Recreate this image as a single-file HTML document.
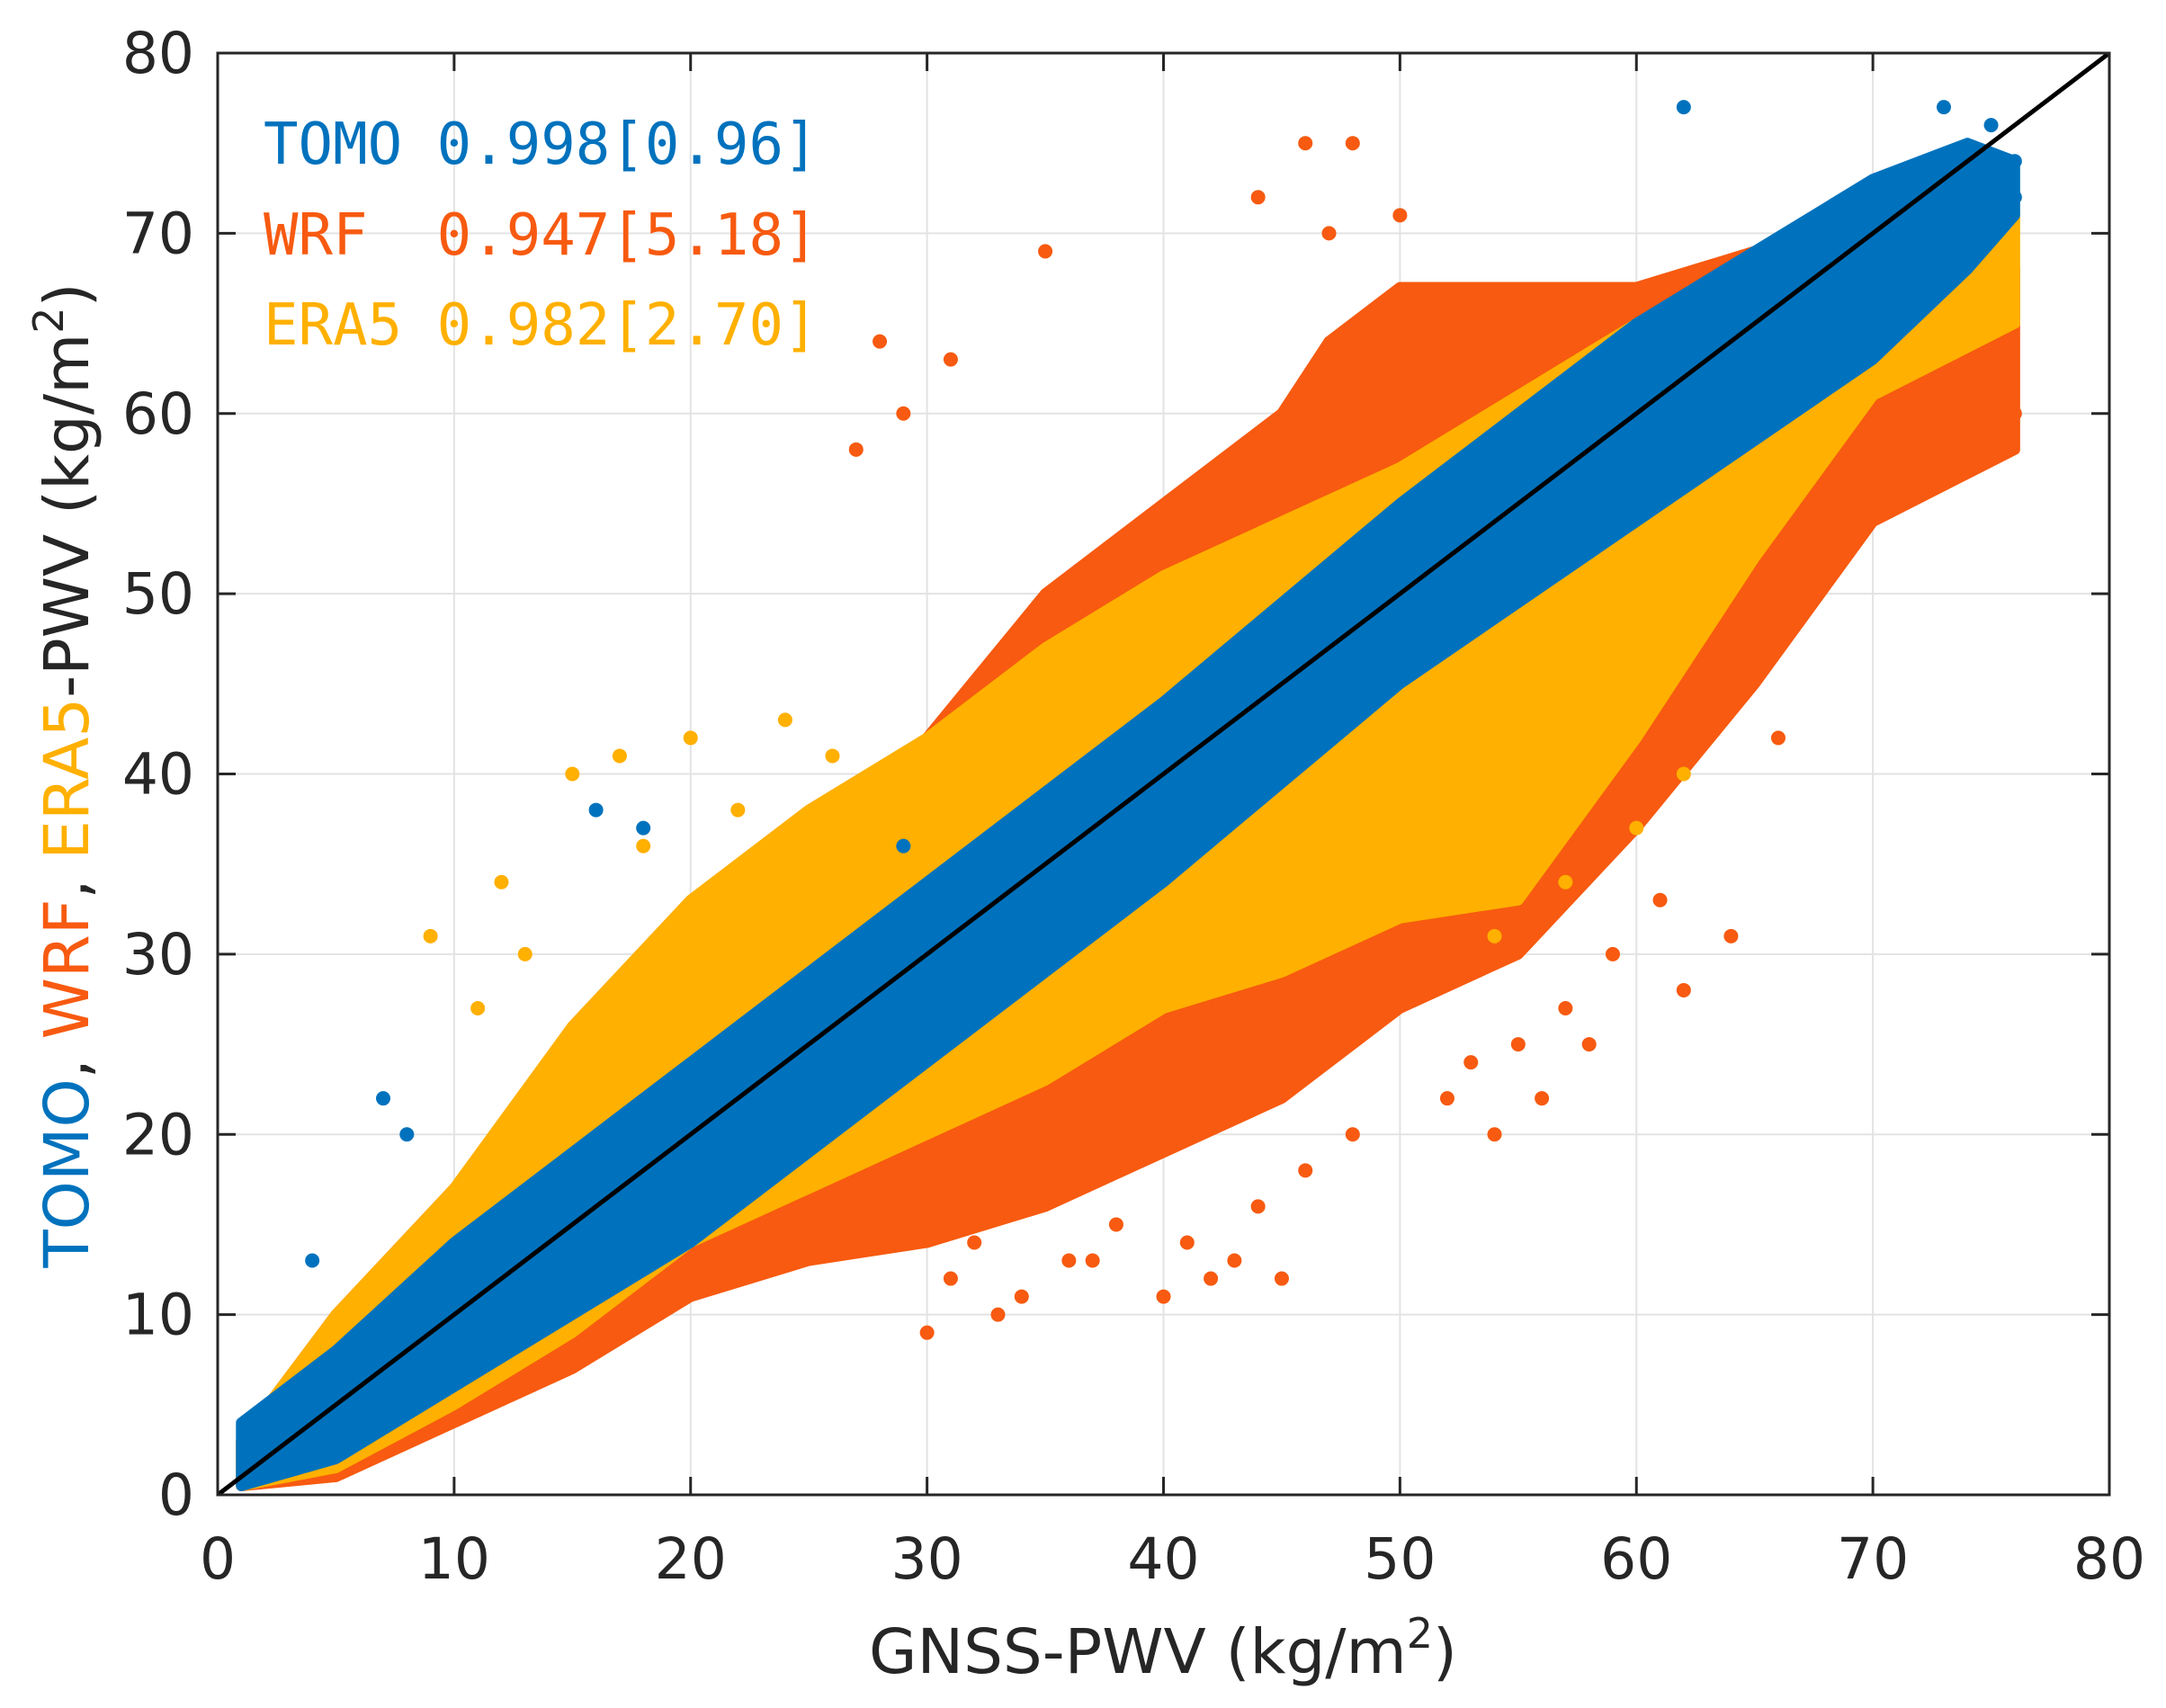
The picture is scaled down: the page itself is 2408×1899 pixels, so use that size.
<!DOCTYPE html>
<html><head><meta charset="utf-8"><style>
html,body{margin:0;padding:0;background:#fff}
svg{display:block;font-family:"DejaVu Sans","Liberation Sans",sans-serif}
</style></head><body>
<svg id="chart" width="2408" height="1899" viewBox="0 0 2408 1899" xmlns="http://www.w3.org/2000/svg">
<defs><clipPath id="plotclip"><rect x="242" y="59" width="2103" height="1603"/></clipPath></defs>
<g id="grid"></g>
<g id="marks" clip-path="url(#plotclip)"></g>
<g id="axes"></g>
<g font-family="'DejaVu Sans Mono','Liberation Mono',monospace" font-size="64">
<text x="293" y="182" fill="#0072BD" xml:space="preserve">TOMO 0.998[0.96]</text>
<text x="293" y="283" fill="#F75A10" xml:space="preserve">WRF  0.947[5.18]</text>
<text x="293" y="383" fill="#FFB000" xml:space="preserve">ERA5 0.982[2.70]</text>
</g>
<text x="1293" y="1860" font-size="69" text-anchor="middle" fill="#262626">GNSS-PWV (kg/m<tspan font-size="46" dy="-28">2</tspan><tspan dy="28">)</tspan></text>
<text transform="translate(98,862) rotate(-90)" font-size="69" text-anchor="middle" fill="#262626"><tspan fill="#0072BD">TOMO</tspan>, <tspan fill="#F75A10">WRF</tspan>, <tspan fill="#FFB000">ERA5</tspan>-PWV (kg/m<tspan font-size="46" dy="-28">2</tspan><tspan dy="28">)</tspan></text>
</svg>
<script>
const xTicks=[0,10,20,30,40,50,60,70,80];
const yTicks=[0,10,20,30,40,50,60,70,80];
// band outlines per series: x positions, lower and upper bounds of the dense scatter
const wrfX=[1,5,10,15,20,25,30,35,40,45,47,50,55,60,65,70,76];
const wrfUpper=[3,10,17,23,29,35,42,50,55,60,64,67,67,67,69,70,68];
const wrfLower=[0.5,1,4,7,11,13,14,16,19,22,24,27,30,37,45,54,58];
const era5X=[1,5,10,15,20,25,30,35,40,45,50,55,60,65,70,76];
const era5Upper=[3,10,17,26,33,38,42,47,51,54,57,61,65,68,71,71];
const era5Lower=[0.5,1.5,5,9,14,17,20,23,27,29,32,33,42,52,61,65];
const tomoX=[1,5,10,20,30,40,50,60,70,74,76];
const tomoUpper=[4,8,14,24,34,44,55,65,73,75,74];
const tomoLower=[0.5,2,6,14,24,34,45,54,63,68,71];
// outlier points
const wrfOutX=[28,31,35,44,46,48,47,50,36,40,42,33,30,62,64,74,76,58,54,56,66,45,31,32,34,37,38,41,43,44,46,48,52,53,55,57,59,61,27,29];
const wrfOutY=[64,63,69,72,75,75,70,71,13,11,12,10,9,28,31,62,60,25,20,22,42,12,12,14,11,13,15,14,13,16,18,20,22,24,25,27,30,33,58,60];
const era5OutX=[9,12,15,17,20,24,26,54,57,60,62,11,13,18,22];
const era5OutY=[31,34,40,41,42,43,41,31,34,37,40,27,30,36,38];
const tomoOutX=[62,73,75,76,76,7,8,4,16,18,29];
const tomoOutY=[77,77,76,74,72,22,20,13,38,37,36];

const L=242,R=2345,T=59,B=1662;
const sx=v=>L+(R-L)*v/80, sy=v=>B-(B-T)*v/80;
const NS="http://www.w3.org/2000/svg";
function mk(tag,attrs,parent){const e=document.createElementNS(NS,tag);for(const k in attrs)e.setAttribute(k,attrs[k]);parent.appendChild(e);return e;}
const grid=document.getElementById('grid'),axes=document.getElementById('axes'),marks=document.getElementById('marks');
xTicks.forEach((t,i)=>{
 const gl=mk('line',{x1:sx(t),x2:sx(t),y1:T,y2:B,stroke:'#e3e3e3','stroke-width':2},grid);
 
 
 const tk=mk('line',{x1:sx(t),x2:sx(t),y1:B,y2:B-20,stroke:'#262626','stroke-width':3},axes);
 
 
 const tk2=mk('line',{x1:sx(t),x2:sx(t),y1:T,y2:T+20,stroke:'#262626','stroke-width':3},axes);
 
 
 const lb=mk('text',{x:sx(t),y:1755,'font-size':63,'text-anchor':'middle',fill:'#262626'},axes);
 lb.textContent=t;
 
 
});
yTicks.forEach(t=>{
 const gl=mk('line',{x1:L,x2:R,y1:sy(t),y2:sy(t),stroke:'#e3e3e3','stroke-width':2},grid);
 
 
 const tk=mk('line',{x1:L,x2:L+20,y1:sy(t),y2:sy(t),stroke:'#262626','stroke-width':3},axes);
 
 
 const tk2=mk('line',{x1:R,x2:R-20,y1:sy(t),y2:sy(t),stroke:'#262626','stroke-width':3},axes);
 
 
 const lb=mk('text',{x:216,y:sy(t)+22,'font-size':63,'text-anchor':'end',fill:'#262626'},axes);
 lb.textContent=t;
 
 
});
const box=mk('rect',{x:L,y:T,width:R-L,height:B-T,fill:'none',stroke:'#262626','stroke-width':3},axes);



function band(xs,lo,hi,color,name){
 let d='M'+xs.map((x,i)=>sx(x)+','+sy(hi[i])).join(' L');
 d+=' L'+xs.slice().reverse().map((x,j)=>{const i=xs.length-1-j;return sx(x)+','+sy(lo[i]);}).join(' L')+' Z';
 const p=mk('path',{d:d,fill:color,stroke:color,'stroke-width':12,'stroke-linejoin':'round'},marks);
 
 
}
function pts(xs,ys,color,name){
 xs.forEach((x,i)=>{
  const c=mk('circle',{cx:sx(x),cy:sy(ys[i]),r:8,fill:color},marks);
  
  
 });
}
band(wrfX,wrfLower,wrfUpper,'#F75A10','wrf-points');
pts(wrfOutX,wrfOutY,'#F75A10','wrf-outlier');
band(era5X,era5Lower,era5Upper,'#FFB000','era5-points');
pts(era5OutX,era5OutY,'#FFB000','era5-outlier');
band(tomoX,tomoLower,tomoUpper,'#0072BD','tomo-points');
pts(tomoOutX,tomoOutY,'#0072BD','tomo-outlier');
const ref=mk('line',{x1:sx(0),y1:sy(0),x2:sx(80),y2:sy(80),stroke:'#000','stroke-width':5},marks);


</script>
</body></html>
